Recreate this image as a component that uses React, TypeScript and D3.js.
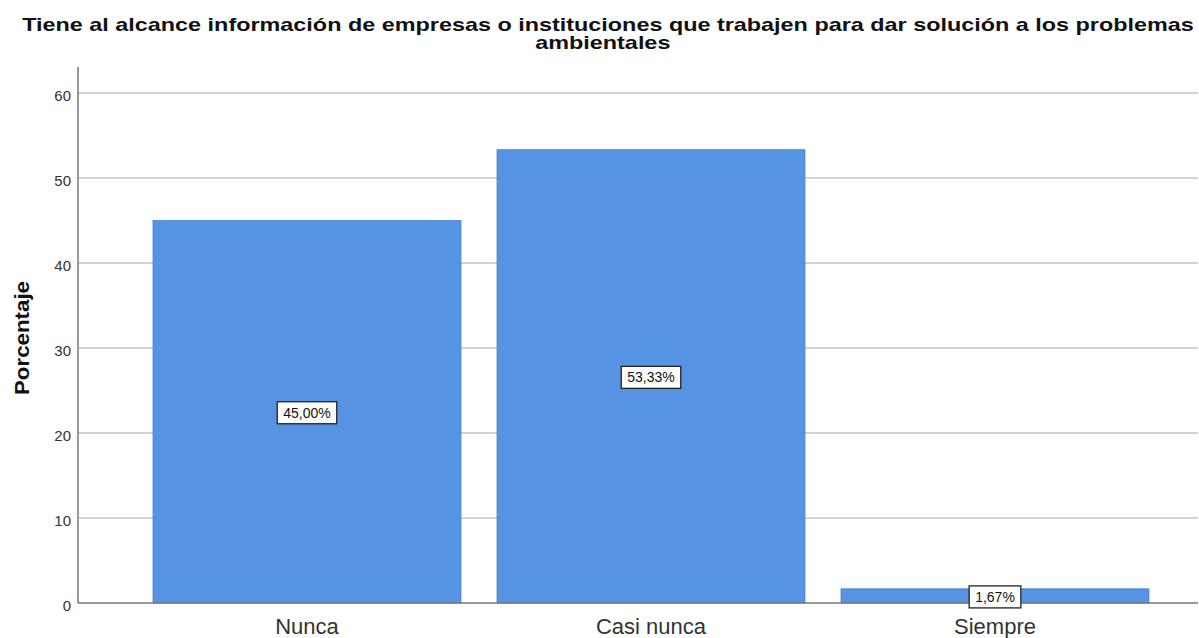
import React, { useEffect, useRef } from 'react';
import * as d3 from 'd3';

const categories = ['Nunca', 'Casi nunca', 'Siempre'];
const values = [45.0, 53.33, 1.67];
const valueLabels = ['45,00%', '53,33%', '1,67%'];
const yTicks = [0, 10, 20, 30, 40, 50, 60];

const App = () => {
  const ref = useRef<SVGSVGElement>(null);

  useEffect(() => {
    const width = 1199;
    const height = 638;
    const svg = d3.select(ref.current);
    svg.selectAll('*').remove();

    const font = 'Arial, "Liberation Sans", sans-serif';
    const plotLeft = 78;
    const plotRight = 1198;

    const y = d3.scaleLinear().domain([0, 60]).range([603, 93]);
    const x = d3.scaleBand<string>()
      .domain(categories)
      .range([135, 1167])
      .paddingInner(0.1047)
      .paddingOuter(0.1047 / 2);

    svg.append('rect').attr('width', width).attr('height', height).attr('fill', '#fff');

    // title (the original is rendered wide, so stretch horizontally)
    const title = svg.append('g')
      .attr('transform', 'translate(608,0) scale(1.3,1)')
      .append('text')
      .attr('text-anchor', 'middle')
      .style('font-family', font)
      .style('font-size', '18px')
      .style('font-weight', 'bold')
      .attr('fill', '#111');
    title.append('tspan').attr('x', 0).attr('y', 31)
      .text('Tiene al alcance información de empresas o instituciones que trabajen para dar solución a los problemas');
    title.append('tspan').attr('x', -4).attr('y', 49).text('ambientales');

    // grid lines
    svg.append('g').selectAll('line')
      .data(yTicks.filter(d => d > 0))
      .enter()
      .append('line')
      .attr('x1', plotLeft).attr('x2', plotRight)
      .attr('y1', d => y(d)).attr('y2', d => y(d))
      .attr('stroke', '#c4c4c4')
      .attr('stroke-width', 1.3);

    // y tick labels
    svg.append('g').selectAll('text')
      .data(yTicks)
      .enter()
      .append('text')
      .attr('x', 71)
      .attr('y', d => y(d) + 8)
      .attr('text-anchor', 'end')
      .style('font-family', font)
      .style('font-size', '15px')
      .attr('fill', '#333')
      .text(d => d);

    // bars
    svg.append('g').selectAll('rect')
      .data(values)
      .enter()
      .append('rect')
      .attr('x', (d, i) => x(categories[i])!)
      .attr('y', d => y(d))
      .attr('width', x.bandwidth())
      .attr('height', d => y(0) - y(d))
      .attr('fill', '#5694e3')
      .attr('stroke', '#4a86d4')
      .attr('stroke-width', 0.8);

    // axes
    svg.append('line')
      .attr('x1', plotLeft).attr('x2', plotLeft)
      .attr('y1', 67).attr('y2', y(0))
      .attr('stroke', '#777').attr('stroke-width', 1.5);
    svg.append('line')
      .attr('x1', plotLeft).attr('x2', plotRight)
      .attr('y1', y(0)).attr('y2', y(0))
      .attr('stroke', '#777').attr('stroke-width', 1.5);

    // value labels, boxed, at the middle of each bar
    const lab = svg.append('g').selectAll('g')
      .data(values)
      .enter()
      .append('g')
      .attr('transform', (d, i) => {
        const cx = x(categories[i])! + x.bandwidth() / 2;
        return `translate(${cx},${y(d / 2) + 1})`;
      });
    const box = lab.append('rect')
      .attr('y', -11)
      .attr('height', 22)
      .attr('fill', '#fff')
      .attr('stroke', '#222')
      .attr('stroke-width', 1.3);
    const txt = lab.append('text')
      .attr('text-anchor', 'middle')
      .attr('y', 5)
      .style('font-family', font)
      .style('font-size', '14px')
      .attr('fill', '#111')
      .text((d, i) => valueLabels[i]);
    txt.each(function (d, i) {
      const w = (this as SVGTextElement).getComputedTextLength() + 12;
      d3.select(box.nodes()[i]).attr('x', -w / 2).attr('width', w);
    });

    // x category labels
    svg.append('g').selectAll('text')
      .data(categories)
      .enter()
      .append('text')
      .attr('x', d => x(d)! + x.bandwidth() / 2)
      .attr('y', 634)
      .attr('text-anchor', 'middle')
      .style('font-family', font)
      .style('font-size', '22px')
      .attr('fill', '#333')
      .text(d => d);

    // y axis title
    svg.append('text')
      .attr('transform', 'translate(29,338) rotate(-90)')
      .attr('text-anchor', 'middle')
      .attr('textLength', 114)
      .attr('lengthAdjust', 'spacingAndGlyphs')
      .style('font-family', font)
      .style('font-size', '20px')
      .style('font-weight', 'bold')
      .attr('fill', '#111')
      .text('Porcentaje');
  }, []);

  return (
    <svg
      ref={ref}
      width={1199}
      height={638}
      style={{ position: 'absolute', left: 0, top: 0, display: 'block' }}
    />
  );
};

export default App;
